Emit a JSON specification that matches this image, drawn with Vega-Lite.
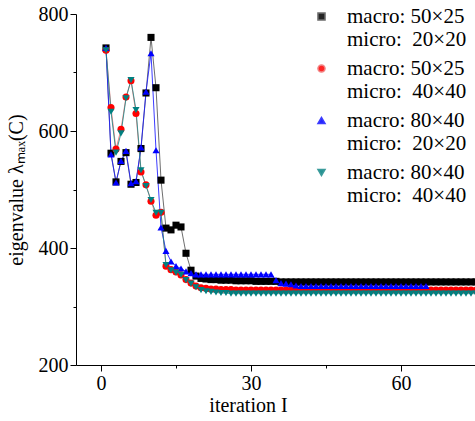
{
  "$schema": "https://vega.github.io/schema/vega-lite/v6.json",
  "width": 400,
  "height": 351,
  "autosize": {"type": "none"},
  "padding": {"left": 76, "top": 14, "right": 0, "bottom": 56},
  "background": "white",
  "config": {
    "view": {"stroke": null},
    "font": "Liberation Serif",
    "axis": {
      "labelFont": "Liberation Serif", "labelFontSize": 20, "labelColor": "#000",
      "titleFont": "Liberation Serif", "titleFontSize": 20, "titleFontWeight": "normal", "titleColor": "#000",
      "domainColor": "#000", "tickColor": "#000", "grid": false, "labelPadding": 2
    },
    "legend": {
      "title": null,
      "orient": "none",
      "legendX": 235,
      "legendY": -8,
      "padding": 0,
      "symbolSize": 50,
      "labelFont": "Liberation Serif",
      "labelFontSize": 21,
      "labelColor": "#000",
      "labelOffset": 15,
      "labelLimit": 0,
      "rowPadding": 7
    }
  },
  "datasets": {
    "pts": [
      {"series": "macro: 50×25|micro:\u00a0 20×20", "iter": 1, "value": 742},
      {"series": "macro: 50×25|micro:\u00a0 20×20", "iter": 2, "value": 562},
      {"series": "macro: 50×25|micro:\u00a0 20×20", "iter": 3, "value": 513},
      {"series": "macro: 50×25|micro:\u00a0 20×20", "iter": 4, "value": 548},
      {"series": "macro: 50×25|micro:\u00a0 20×20", "iter": 5, "value": 563},
      {"series": "macro: 50×25|micro:\u00a0 20×20", "iter": 6, "value": 509},
      {"series": "macro: 50×25|micro:\u00a0 20×20", "iter": 7, "value": 512},
      {"series": "macro: 50×25|micro:\u00a0 20×20", "iter": 8, "value": 570},
      {"series": "macro: 50×25|micro:\u00a0 20×20", "iter": 9, "value": 665},
      {"series": "macro: 50×25|micro:\u00a0 20×20", "iter": 10, "value": 760},
      {"series": "macro: 50×25|micro:\u00a0 20×20", "iter": 11, "value": 674},
      {"series": "macro: 50×25|micro:\u00a0 20×20", "iter": 12, "value": 516},
      {"series": "macro: 50×25|micro:\u00a0 20×20", "iter": 13, "value": 434},
      {"series": "macro: 50×25|micro:\u00a0 20×20", "iter": 14, "value": 431},
      {"series": "macro: 50×25|micro:\u00a0 20×20", "iter": 15, "value": 439},
      {"series": "macro: 50×25|micro:\u00a0 20×20", "iter": 16, "value": 436},
      {"series": "macro: 50×25|micro:\u00a0 20×20", "iter": 17, "value": 391},
      {"series": "macro: 50×25|micro:\u00a0 20×20", "iter": 18, "value": 362},
      {"series": "macro: 50×25|micro:\u00a0 20×20", "iter": 19, "value": 352},
      {"series": "macro: 50×25|micro:\u00a0 20×20", "iter": 20, "value": 348},
      {"series": "macro: 50×25|micro:\u00a0 20×20", "iter": 21, "value": 347},
      {"series": "macro: 50×25|micro:\u00a0 20×20", "iter": 22, "value": 346},
      {"series": "macro: 50×25|micro:\u00a0 20×20", "iter": 23, "value": 346},
      {"series": "macro: 50×25|micro:\u00a0 20×20", "iter": 24, "value": 345},
      {"series": "macro: 50×25|micro:\u00a0 20×20", "iter": 25, "value": 345},
      {"series": "macro: 50×25|micro:\u00a0 20×20", "iter": 26, "value": 345},
      {"series": "macro: 50×25|micro:\u00a0 20×20", "iter": 27, "value": 344},
      {"series": "macro: 50×25|micro:\u00a0 20×20", "iter": 28, "value": 344},
      {"series": "macro: 50×25|micro:\u00a0 20×20", "iter": 29, "value": 344},
      {"series": "macro: 50×25|micro:\u00a0 20×20", "iter": 30, "value": 344},
      {"series": "macro: 50×25|micro:\u00a0 20×20", "iter": 31, "value": 343},
      {"series": "macro: 50×25|micro:\u00a0 20×20", "iter": 32, "value": 343},
      {"series": "macro: 50×25|micro:\u00a0 20×20", "iter": 33, "value": 343},
      {"series": "macro: 50×25|micro:\u00a0 20×20", "iter": 34, "value": 343},
      {"series": "macro: 50×25|micro:\u00a0 20×20", "iter": 35, "value": 343},
      {"series": "macro: 50×25|micro:\u00a0 20×20", "iter": 36, "value": 342},
      {"series": "macro: 50×25|micro:\u00a0 20×20", "iter": 37, "value": 342},
      {"series": "macro: 50×25|micro:\u00a0 20×20", "iter": 38, "value": 342},
      {"series": "macro: 50×25|micro:\u00a0 20×20", "iter": 39, "value": 342},
      {"series": "macro: 50×25|micro:\u00a0 20×20", "iter": 40, "value": 342},
      {"series": "macro: 50×25|micro:\u00a0 20×20", "iter": 41, "value": 342},
      {"series": "macro: 50×25|micro:\u00a0 20×20", "iter": 42, "value": 342},
      {"series": "macro: 50×25|micro:\u00a0 20×20", "iter": 43, "value": 342},
      {"series": "macro: 50×25|micro:\u00a0 20×20", "iter": 44, "value": 342},
      {"series": "macro: 50×25|micro:\u00a0 20×20", "iter": 45, "value": 342},
      {"series": "macro: 50×25|micro:\u00a0 20×20", "iter": 46, "value": 342},
      {"series": "macro: 50×25|micro:\u00a0 20×20", "iter": 47, "value": 342},
      {"series": "macro: 50×25|micro:\u00a0 20×20", "iter": 48, "value": 342},
      {"series": "macro: 50×25|micro:\u00a0 20×20", "iter": 49, "value": 342},
      {"series": "macro: 50×25|micro:\u00a0 20×20", "iter": 50, "value": 342},
      {"series": "macro: 50×25|micro:\u00a0 20×20", "iter": 51, "value": 342},
      {"series": "macro: 50×25|micro:\u00a0 20×20", "iter": 52, "value": 342},
      {"series": "macro: 50×25|micro:\u00a0 20×20", "iter": 53, "value": 342},
      {"series": "macro: 50×25|micro:\u00a0 20×20", "iter": 54, "value": 342},
      {"series": "macro: 50×25|micro:\u00a0 20×20", "iter": 55, "value": 342},
      {"series": "macro: 50×25|micro:\u00a0 20×20", "iter": 56, "value": 342},
      {"series": "macro: 50×25|micro:\u00a0 20×20", "iter": 57, "value": 342},
      {"series": "macro: 50×25|micro:\u00a0 20×20", "iter": 58, "value": 342},
      {"series": "macro: 50×25|micro:\u00a0 20×20", "iter": 59, "value": 342},
      {"series": "macro: 50×25|micro:\u00a0 20×20", "iter": 60, "value": 342},
      {"series": "macro: 50×25|micro:\u00a0 20×20", "iter": 61, "value": 342},
      {"series": "macro: 50×25|micro:\u00a0 20×20", "iter": 62, "value": 342},
      {"series": "macro: 50×25|micro:\u00a0 20×20", "iter": 63, "value": 342},
      {"series": "macro: 50×25|micro:\u00a0 20×20", "iter": 64, "value": 342},
      {"series": "macro: 50×25|micro:\u00a0 20×20", "iter": 65, "value": 342},
      {"series": "macro: 50×25|micro:\u00a0 20×20", "iter": 66, "value": 342},
      {"series": "macro: 50×25|micro:\u00a0 20×20", "iter": 67, "value": 342},
      {"series": "macro: 50×25|micro:\u00a0 20×20", "iter": 68, "value": 342},
      {"series": "macro: 50×25|micro:\u00a0 20×20", "iter": 69, "value": 342},
      {"series": "macro: 50×25|micro:\u00a0 20×20", "iter": 70, "value": 342},
      {"series": "macro: 50×25|micro:\u00a0 20×20", "iter": 71, "value": 342},
      {"series": "macro: 50×25|micro:\u00a0 20×20", "iter": 72, "value": 342},
      {"series": "macro: 50×25|micro:\u00a0 20×20", "iter": 73, "value": 342},
      {"series": "macro: 50×25|micro:\u00a0 20×20", "iter": 74, "value": 342},
      {"series": "macro: 50×25|micro:\u00a0 20×20", "iter": 75, "value": 342},

      {"series": "macro: 50×25|micro:\u00a0 40×40", "iter": 1, "value": 738},
      {"series": "macro: 50×25|micro:\u00a0 40×40", "iter": 2, "value": 640},
      {"series": "macro: 50×25|micro:\u00a0 40×40", "iter": 3, "value": 569},
      {"series": "macro: 50×25|micro:\u00a0 40×40", "iter": 4, "value": 603},
      {"series": "macro: 50×25|micro:\u00a0 40×40", "iter": 5, "value": 658},
      {"series": "macro: 50×25|micro:\u00a0 40×40", "iter": 6, "value": 686},
      {"series": "macro: 50×25|micro:\u00a0 40×40", "iter": 7, "value": 630},
      {"series": "macro: 50×25|micro:\u00a0 40×40", "iter": 8, "value": 530},
      {"series": "macro: 50×25|micro:\u00a0 40×40", "iter": 9, "value": 508},
      {"series": "macro: 50×25|micro:\u00a0 40×40", "iter": 10, "value": 480},
      {"series": "macro: 50×25|micro:\u00a0 40×40", "iter": 11, "value": 456},
      {"series": "macro: 50×25|micro:\u00a0 40×40", "iter": 12, "value": 461},
      {"series": "macro: 50×25|micro:\u00a0 40×40", "iter": 13, "value": 369},
      {"series": "macro: 50×25|micro:\u00a0 40×40", "iter": 14, "value": 363},
      {"series": "macro: 50×25|micro:\u00a0 40×40", "iter": 15, "value": 359},
      {"series": "macro: 50×25|micro:\u00a0 40×40", "iter": 16, "value": 354},
      {"series": "macro: 50×25|micro:\u00a0 40×40", "iter": 17, "value": 346},
      {"series": "macro: 50×25|micro:\u00a0 40×40", "iter": 18, "value": 340},
      {"series": "macro: 50×25|micro:\u00a0 40×40", "iter": 19, "value": 335},
      {"series": "macro: 50×25|micro:\u00a0 40×40", "iter": 20, "value": 332},
      {"series": "macro: 50×25|micro:\u00a0 40×40", "iter": 21, "value": 331},
      {"series": "macro: 50×25|micro:\u00a0 40×40", "iter": 22, "value": 330},
      {"series": "macro: 50×25|micro:\u00a0 40×40", "iter": 23, "value": 330},
      {"series": "macro: 50×25|micro:\u00a0 40×40", "iter": 24, "value": 329},
      {"series": "macro: 50×25|micro:\u00a0 40×40", "iter": 25, "value": 329},
      {"series": "macro: 50×25|micro:\u00a0 40×40", "iter": 26, "value": 329},
      {"series": "macro: 50×25|micro:\u00a0 40×40", "iter": 27, "value": 328},
      {"series": "macro: 50×25|micro:\u00a0 40×40", "iter": 28, "value": 328},
      {"series": "macro: 50×25|micro:\u00a0 40×40", "iter": 29, "value": 328},
      {"series": "macro: 50×25|micro:\u00a0 40×40", "iter": 30, "value": 328},
      {"series": "macro: 50×25|micro:\u00a0 40×40", "iter": 31, "value": 328},
      {"series": "macro: 50×25|micro:\u00a0 40×40", "iter": 32, "value": 328},
      {"series": "macro: 50×25|micro:\u00a0 40×40", "iter": 33, "value": 328},
      {"series": "macro: 50×25|micro:\u00a0 40×40", "iter": 34, "value": 328},
      {"series": "macro: 50×25|micro:\u00a0 40×40", "iter": 35, "value": 328},
      {"series": "macro: 50×25|micro:\u00a0 40×40", "iter": 36, "value": 328},
      {"series": "macro: 50×25|micro:\u00a0 40×40", "iter": 37, "value": 328},
      {"series": "macro: 50×25|micro:\u00a0 40×40", "iter": 38, "value": 328},
      {"series": "macro: 50×25|micro:\u00a0 40×40", "iter": 39, "value": 328},
      {"series": "macro: 50×25|micro:\u00a0 40×40", "iter": 40, "value": 328},
      {"series": "macro: 50×25|micro:\u00a0 40×40", "iter": 41, "value": 328},
      {"series": "macro: 50×25|micro:\u00a0 40×40", "iter": 42, "value": 328},
      {"series": "macro: 50×25|micro:\u00a0 40×40", "iter": 43, "value": 328},
      {"series": "macro: 50×25|micro:\u00a0 40×40", "iter": 44, "value": 328},
      {"series": "macro: 50×25|micro:\u00a0 40×40", "iter": 45, "value": 328},
      {"series": "macro: 50×25|micro:\u00a0 40×40", "iter": 46, "value": 328},
      {"series": "macro: 50×25|micro:\u00a0 40×40", "iter": 47, "value": 328},
      {"series": "macro: 50×25|micro:\u00a0 40×40", "iter": 48, "value": 328},
      {"series": "macro: 50×25|micro:\u00a0 40×40", "iter": 49, "value": 328},
      {"series": "macro: 50×25|micro:\u00a0 40×40", "iter": 50, "value": 328},
      {"series": "macro: 50×25|micro:\u00a0 40×40", "iter": 51, "value": 328},
      {"series": "macro: 50×25|micro:\u00a0 40×40", "iter": 52, "value": 328},
      {"series": "macro: 50×25|micro:\u00a0 40×40", "iter": 53, "value": 328},
      {"series": "macro: 50×25|micro:\u00a0 40×40", "iter": 54, "value": 328},
      {"series": "macro: 50×25|micro:\u00a0 40×40", "iter": 55, "value": 328},
      {"series": "macro: 50×25|micro:\u00a0 40×40", "iter": 56, "value": 328},
      {"series": "macro: 50×25|micro:\u00a0 40×40", "iter": 57, "value": 328},
      {"series": "macro: 50×25|micro:\u00a0 40×40", "iter": 58, "value": 328},
      {"series": "macro: 50×25|micro:\u00a0 40×40", "iter": 59, "value": 328},
      {"series": "macro: 50×25|micro:\u00a0 40×40", "iter": 60, "value": 328},
      {"series": "macro: 50×25|micro:\u00a0 40×40", "iter": 61, "value": 328},
      {"series": "macro: 50×25|micro:\u00a0 40×40", "iter": 62, "value": 328},
      {"series": "macro: 50×25|micro:\u00a0 40×40", "iter": 63, "value": 328},
      {"series": "macro: 50×25|micro:\u00a0 40×40", "iter": 64, "value": 328},
      {"series": "macro: 50×25|micro:\u00a0 40×40", "iter": 65, "value": 328},
      {"series": "macro: 50×25|micro:\u00a0 40×40", "iter": 66, "value": 328},
      {"series": "macro: 50×25|micro:\u00a0 40×40", "iter": 67, "value": 328},
      {"series": "macro: 50×25|micro:\u00a0 40×40", "iter": 68, "value": 328},
      {"series": "macro: 50×25|micro:\u00a0 40×40", "iter": 69, "value": 328},
      {"series": "macro: 50×25|micro:\u00a0 40×40", "iter": 70, "value": 328},
      {"series": "macro: 50×25|micro:\u00a0 40×40", "iter": 71, "value": 328},
      {"series": "macro: 50×25|micro:\u00a0 40×40", "iter": 72, "value": 328},
      {"series": "macro: 50×25|micro:\u00a0 40×40", "iter": 73, "value": 328},
      {"series": "macro: 50×25|micro:\u00a0 40×40", "iter": 74, "value": 328},
      {"series": "macro: 50×25|micro:\u00a0 40×40", "iter": 75, "value": 328},

      {"series": "macro: 80×40|micro:\u00a0 20×20", "iter": 1, "value": 742},
      {"series": "macro: 80×40|micro:\u00a0 20×20", "iter": 2, "value": 560},
      {"series": "macro: 80×40|micro:\u00a0 20×20", "iter": 3, "value": 512},
      {"series": "macro: 80×40|micro:\u00a0 20×20", "iter": 4, "value": 549},
      {"series": "macro: 80×40|micro:\u00a0 20×20", "iter": 5, "value": 566},
      {"series": "macro: 80×40|micro:\u00a0 20×20", "iter": 6, "value": 511},
      {"series": "macro: 80×40|micro:\u00a0 20×20", "iter": 7, "value": 514},
      {"series": "macro: 80×40|micro:\u00a0 20×20", "iter": 8, "value": 572},
      {"series": "macro: 80×40|micro:\u00a0 20×20", "iter": 9, "value": 667},
      {"series": "macro: 80×40|micro:\u00a0 20×20", "iter": 10, "value": 733},
      {"series": "macro: 80×40|micro:\u00a0 20×20", "iter": 11, "value": 567},
      {"series": "macro: 80×40|micro:\u00a0 20×20", "iter": 12, "value": 435},
      {"series": "macro: 80×40|micro:\u00a0 20×20", "iter": 13, "value": 395},
      {"series": "macro: 80×40|micro:\u00a0 20×20", "iter": 14, "value": 377},
      {"series": "macro: 80×40|micro:\u00a0 20×20", "iter": 15, "value": 369},
      {"series": "macro: 80×40|micro:\u00a0 20×20", "iter": 16, "value": 365},
      {"series": "macro: 80×40|micro:\u00a0 20×20", "iter": 17, "value": 360},
      {"series": "macro: 80×40|micro:\u00a0 20×20", "iter": 18, "value": 357},
      {"series": "macro: 80×40|micro:\u00a0 20×20", "iter": 19, "value": 355},
      {"series": "macro: 80×40|micro:\u00a0 20×20", "iter": 20, "value": 355},
      {"series": "macro: 80×40|micro:\u00a0 20×20", "iter": 21, "value": 355},
      {"series": "macro: 80×40|micro:\u00a0 20×20", "iter": 22, "value": 355},
      {"series": "macro: 80×40|micro:\u00a0 20×20", "iter": 23, "value": 355},
      {"series": "macro: 80×40|micro:\u00a0 20×20", "iter": 24, "value": 355},
      {"series": "macro: 80×40|micro:\u00a0 20×20", "iter": 25, "value": 355},
      {"series": "macro: 80×40|micro:\u00a0 20×20", "iter": 26, "value": 355},
      {"series": "macro: 80×40|micro:\u00a0 20×20", "iter": 27, "value": 355},
      {"series": "macro: 80×40|micro:\u00a0 20×20", "iter": 28, "value": 355},
      {"series": "macro: 80×40|micro:\u00a0 20×20", "iter": 29, "value": 355},
      {"series": "macro: 80×40|micro:\u00a0 20×20", "iter": 30, "value": 355},
      {"series": "macro: 80×40|micro:\u00a0 20×20", "iter": 31, "value": 355},
      {"series": "macro: 80×40|micro:\u00a0 20×20", "iter": 32, "value": 355},
      {"series": "macro: 80×40|micro:\u00a0 20×20", "iter": 33, "value": 355},
      {"series": "macro: 80×40|micro:\u00a0 20×20", "iter": 34, "value": 355},
      {"series": "macro: 80×40|micro:\u00a0 20×20", "iter": 35, "value": 345},
      {"series": "macro: 80×40|micro:\u00a0 20×20", "iter": 36, "value": 340},
      {"series": "macro: 80×40|micro:\u00a0 20×20", "iter": 37, "value": 339},
      {"series": "macro: 80×40|micro:\u00a0 20×20", "iter": 38, "value": 338},
      {"series": "macro: 80×40|micro:\u00a0 20×20", "iter": 39, "value": 336},
      {"series": "macro: 80×40|micro:\u00a0 20×20", "iter": 40, "value": 335},
      {"series": "macro: 80×40|micro:\u00a0 20×20", "iter": 41, "value": 335},
      {"series": "macro: 80×40|micro:\u00a0 20×20", "iter": 42, "value": 335},
      {"series": "macro: 80×40|micro:\u00a0 20×20", "iter": 43, "value": 335},
      {"series": "macro: 80×40|micro:\u00a0 20×20", "iter": 44, "value": 335},
      {"series": "macro: 80×40|micro:\u00a0 20×20", "iter": 45, "value": 335},
      {"series": "macro: 80×40|micro:\u00a0 20×20", "iter": 46, "value": 335},
      {"series": "macro: 80×40|micro:\u00a0 20×20", "iter": 47, "value": 335},
      {"series": "macro: 80×40|micro:\u00a0 20×20", "iter": 48, "value": 335},
      {"series": "macro: 80×40|micro:\u00a0 20×20", "iter": 49, "value": 335},
      {"series": "macro: 80×40|micro:\u00a0 20×20", "iter": 50, "value": 335},
      {"series": "macro: 80×40|micro:\u00a0 20×20", "iter": 51, "value": 335},
      {"series": "macro: 80×40|micro:\u00a0 20×20", "iter": 52, "value": 335},
      {"series": "macro: 80×40|micro:\u00a0 20×20", "iter": 53, "value": 335},
      {"series": "macro: 80×40|micro:\u00a0 20×20", "iter": 54, "value": 335},
      {"series": "macro: 80×40|micro:\u00a0 20×20", "iter": 55, "value": 335},
      {"series": "macro: 80×40|micro:\u00a0 20×20", "iter": 56, "value": 335},
      {"series": "macro: 80×40|micro:\u00a0 20×20", "iter": 57, "value": 335},
      {"series": "macro: 80×40|micro:\u00a0 20×20", "iter": 58, "value": 335},
      {"series": "macro: 80×40|micro:\u00a0 20×20", "iter": 59, "value": 335},
      {"series": "macro: 80×40|micro:\u00a0 20×20", "iter": 60, "value": 335},
      {"series": "macro: 80×40|micro:\u00a0 20×20", "iter": 61, "value": 335},
      {"series": "macro: 80×40|micro:\u00a0 20×20", "iter": 62, "value": 335},
      {"series": "macro: 80×40|micro:\u00a0 20×20", "iter": 63, "value": 335},
      {"series": "macro: 80×40|micro:\u00a0 20×20", "iter": 64, "value": 335},
      {"series": "macro: 80×40|micro:\u00a0 20×20", "iter": 65, "value": 335},

      {"series": "macro: 80×40|micro:\u00a0 40×40", "iter": 1, "value": 738},
      {"series": "macro: 80×40|micro:\u00a0 40×40", "iter": 2, "value": 633},
      {"series": "macro: 80×40|micro:\u00a0 40×40", "iter": 3, "value": 563},
      {"series": "macro: 80×40|micro:\u00a0 40×40", "iter": 4, "value": 596},
      {"series": "macro: 80×40|micro:\u00a0 40×40", "iter": 5, "value": 656},
      {"series": "macro: 80×40|micro:\u00a0 40×40", "iter": 6, "value": 687},
      {"series": "macro: 80×40|micro:\u00a0 40×40", "iter": 7, "value": 636},
      {"series": "macro: 80×40|micro:\u00a0 40×40", "iter": 8, "value": 533},
      {"series": "macro: 80×40|micro:\u00a0 40×40", "iter": 9, "value": 506},
      {"series": "macro: 80×40|micro:\u00a0 40×40", "iter": 10, "value": 482},
      {"series": "macro: 80×40|micro:\u00a0 40×40", "iter": 11, "value": 460},
      {"series": "macro: 80×40|micro:\u00a0 40×40", "iter": 12, "value": 460},
      {"series": "macro: 80×40|micro:\u00a0 40×40", "iter": 13, "value": 371},
      {"series": "macro: 80×40|micro:\u00a0 40×40", "iter": 14, "value": 362},
      {"series": "macro: 80×40|micro:\u00a0 40×40", "iter": 15, "value": 358},
      {"series": "macro: 80×40|micro:\u00a0 40×40", "iter": 16, "value": 354},
      {"series": "macro: 80×40|micro:\u00a0 40×40", "iter": 17, "value": 345},
      {"series": "macro: 80×40|micro:\u00a0 40×40", "iter": 18, "value": 339},
      {"series": "macro: 80×40|micro:\u00a0 40×40", "iter": 19, "value": 333},
      {"series": "macro: 80×40|micro:\u00a0 40×40", "iter": 20, "value": 328},
      {"series": "macro: 80×40|micro:\u00a0 40×40", "iter": 21, "value": 326},
      {"series": "macro: 80×40|micro:\u00a0 40×40", "iter": 22, "value": 325},
      {"series": "macro: 80×40|micro:\u00a0 40×40", "iter": 23, "value": 324},
      {"series": "macro: 80×40|micro:\u00a0 40×40", "iter": 24, "value": 323},
      {"series": "macro: 80×40|micro:\u00a0 40×40", "iter": 25, "value": 323},
      {"series": "macro: 80×40|micro:\u00a0 40×40", "iter": 26, "value": 322},
      {"series": "macro: 80×40|micro:\u00a0 40×40", "iter": 27, "value": 322},
      {"series": "macro: 80×40|micro:\u00a0 40×40", "iter": 28, "value": 322},
      {"series": "macro: 80×40|micro:\u00a0 40×40", "iter": 29, "value": 322},
      {"series": "macro: 80×40|micro:\u00a0 40×40", "iter": 30, "value": 322},
      {"series": "macro: 80×40|micro:\u00a0 40×40", "iter": 31, "value": 322},
      {"series": "macro: 80×40|micro:\u00a0 40×40", "iter": 32, "value": 322},
      {"series": "macro: 80×40|micro:\u00a0 40×40", "iter": 33, "value": 322},
      {"series": "macro: 80×40|micro:\u00a0 40×40", "iter": 34, "value": 322},
      {"series": "macro: 80×40|micro:\u00a0 40×40", "iter": 35, "value": 322},
      {"series": "macro: 80×40|micro:\u00a0 40×40", "iter": 36, "value": 322},
      {"series": "macro: 80×40|micro:\u00a0 40×40", "iter": 37, "value": 322},
      {"series": "macro: 80×40|micro:\u00a0 40×40", "iter": 38, "value": 322},
      {"series": "macro: 80×40|micro:\u00a0 40×40", "iter": 39, "value": 322},
      {"series": "macro: 80×40|micro:\u00a0 40×40", "iter": 40, "value": 322},
      {"series": "macro: 80×40|micro:\u00a0 40×40", "iter": 41, "value": 322},
      {"series": "macro: 80×40|micro:\u00a0 40×40", "iter": 42, "value": 322},
      {"series": "macro: 80×40|micro:\u00a0 40×40", "iter": 43, "value": 322},
      {"series": "macro: 80×40|micro:\u00a0 40×40", "iter": 44, "value": 322},
      {"series": "macro: 80×40|micro:\u00a0 40×40", "iter": 45, "value": 322},
      {"series": "macro: 80×40|micro:\u00a0 40×40", "iter": 46, "value": 322},
      {"series": "macro: 80×40|micro:\u00a0 40×40", "iter": 47, "value": 322},
      {"series": "macro: 80×40|micro:\u00a0 40×40", "iter": 48, "value": 322},
      {"series": "macro: 80×40|micro:\u00a0 40×40", "iter": 49, "value": 322},
      {"series": "macro: 80×40|micro:\u00a0 40×40", "iter": 50, "value": 322},
      {"series": "macro: 80×40|micro:\u00a0 40×40", "iter": 51, "value": 322},
      {"series": "macro: 80×40|micro:\u00a0 40×40", "iter": 52, "value": 322},
      {"series": "macro: 80×40|micro:\u00a0 40×40", "iter": 53, "value": 322},
      {"series": "macro: 80×40|micro:\u00a0 40×40", "iter": 54, "value": 322},
      {"series": "macro: 80×40|micro:\u00a0 40×40", "iter": 55, "value": 322},
      {"series": "macro: 80×40|micro:\u00a0 40×40", "iter": 56, "value": 322},
      {"series": "macro: 80×40|micro:\u00a0 40×40", "iter": 57, "value": 322},
      {"series": "macro: 80×40|micro:\u00a0 40×40", "iter": 58, "value": 322},
      {"series": "macro: 80×40|micro:\u00a0 40×40", "iter": 59, "value": 322},
      {"series": "macro: 80×40|micro:\u00a0 40×40", "iter": 60, "value": 322},
      {"series": "macro: 80×40|micro:\u00a0 40×40", "iter": 61, "value": 322},
      {"series": "macro: 80×40|micro:\u00a0 40×40", "iter": 62, "value": 322},
      {"series": "macro: 80×40|micro:\u00a0 40×40", "iter": 63, "value": 322},
      {"series": "macro: 80×40|micro:\u00a0 40×40", "iter": 64, "value": 322},
      {"series": "macro: 80×40|micro:\u00a0 40×40", "iter": 65, "value": 322},
      {"series": "macro: 80×40|micro:\u00a0 40×40", "iter": 66, "value": 322},
      {"series": "macro: 80×40|micro:\u00a0 40×40", "iter": 67, "value": 322},
      {"series": "macro: 80×40|micro:\u00a0 40×40", "iter": 68, "value": 322},
      {"series": "macro: 80×40|micro:\u00a0 40×40", "iter": 69, "value": 322},
      {"series": "macro: 80×40|micro:\u00a0 40×40", "iter": 70, "value": 322},
      {"series": "macro: 80×40|micro:\u00a0 40×40", "iter": 71, "value": 322},
      {"series": "macro: 80×40|micro:\u00a0 40×40", "iter": 72, "value": 322},
      {"series": "macro: 80×40|micro:\u00a0 40×40", "iter": 73, "value": 322},
      {"series": "macro: 80×40|micro:\u00a0 40×40", "iter": 74, "value": 322},
      {"series": "macro: 80×40|micro:\u00a0 40×40", "iter": 75, "value": 322}
    ]
  },
  "data": {"name": "pts"},
  "encoding": {
    "x": {
      "field": "iter", "type": "quantitative",
      "scale": {"domain": [-5, 75], "nice": false, "zero": false},
      "axis": {
        "title": "iteration I",
        "values": [0, 15, 30, 45, 60],
        "labelExpr": "datum.value % 30 === 0 ? datum.label : ''",
        "tickSize": {"condition": {"test": "datum.value % 30 !== 0", "value": 3}, "value": 6},
        "titleX": 172,
        "titlePadding": 2
      }
    },
    "y": {
      "field": "value", "type": "quantitative",
      "scale": {"domain": [200, 800], "nice": false, "zero": false},
      "axis": {
        "title": "eigenvalue λₘₐₓ(C)",
        "values": [200, 300, 400, 500, 600, 700, 800],
        "labelExpr": "datum.value % 200 === 0 ? datum.label : ''",
        "tickSize": {"condition": {"test": "datum.value % 200 !== 0", "value": 3}, "value": 6},
        "titlePadding": 12
      }
    }
  },
  "layer": [
    {
      "mark": {"type": "line", "strokeWidth": 1, "opacity": 0.85, "clip": true},
      "encoding": {
        "stroke": {
          "field": "series", "type": "nominal",
          "scale": {
            "domain": ["macro: 50×25|micro:\u00a0 20×20", "macro: 50×25|micro:\u00a0 40×40", "macro: 80×40|micro:\u00a0 20×20", "macro: 80×40|micro:\u00a0 40×40"],
            "range": ["#555555", "#f07070", "#1a1aff", "#1a8a8a"]
          },
          "legend": {"labelExpr": "split(datum.label, '|')"}
        },
        "detail": {"field": "series"}
      }
    },
    {
      "mark": {"type": "point", "filled": true, "opacity": 1, "size": 50, "clip": true},
      "encoding": {
        "color": {
          "field": "series", "type": "nominal",
          "scale": {
            "domain": ["macro: 50×25|micro:\u00a0 20×20", "macro: 50×25|micro:\u00a0 40×40", "macro: 80×40|micro:\u00a0 20×20", "macro: 80×40|micro:\u00a0 40×40"],
            "range": ["#000000", "#ff0000", "#0000ff", "#008080"]
          },
          "legend": {"labelExpr": "split(datum.label, '|')"}
        },
        "shape": {
          "field": "series", "type": "nominal",
          "scale": {
            "domain": ["macro: 50×25|micro:\u00a0 20×20", "macro: 50×25|micro:\u00a0 40×40", "macro: 80×40|micro:\u00a0 20×20", "macro: 80×40|micro:\u00a0 40×40"],
            "range": ["square", "circle", "triangle-up", "triangle-down"]
          },
          "legend": {"labelExpr": "split(datum.label, '|')"}
        }
      }
    }
  ]
}
